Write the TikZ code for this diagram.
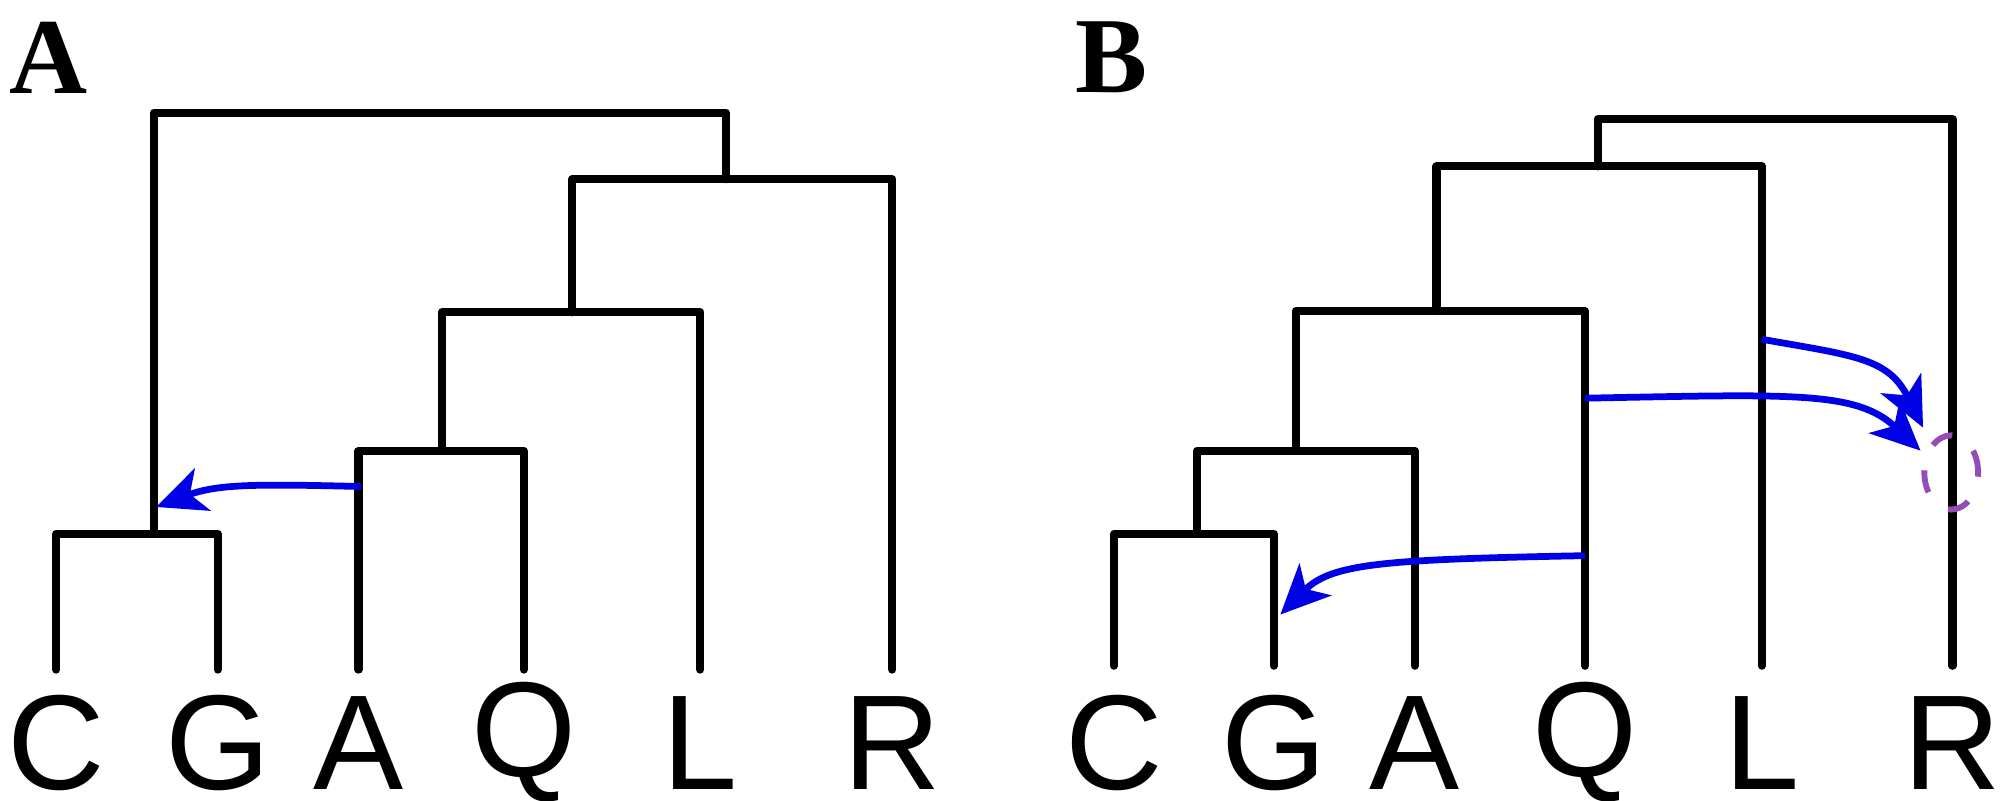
\documentclass[tikz,border=0pt]{standalone}
\usepackage{fontspec}
\setmainfont{Liberation Sans}
\newfontfamily\panelfont{Liberation Serif}
\usetikzlibrary{arrows.meta,shapes.geometric}
\begin{document}
\begin{tikzpicture}[x=0.01cm,y=-0.01cm,
  br/.style={line width=1.8pt,line join=round,line cap=round},
  hgt/.style={draw=blue!90!black,line width=1.5pt,-{Stealth[length=11pt,width=10pt,inset=3pt]}},
  leaf/.style={font=\fontsize{30}{30}\selectfont,anchor=center,inner sep=0},
  panel/.style={font=\panelfont\bfseries\fontsize{24}{24}\selectfont,inner sep=0}]
\useasboundingbox (0,0) rectangle (1566,625);
\node[panel] (pA) at (38,45) {A};
\node[panel] (pB) at (868,45) {B};
% Tree A
\foreach \n/\x in {C/44,G/170,A/280,Q/409,L/547,R/697}
  \node[leaf] (a\n) at (\x,580) {\n};
\draw[br] (44,523) |- (170,417) -- (170,523);
\draw[br] (280,523) |- (409,352) -- (409,523);
\draw[br] (345,352) |- (547,244) -- (547,523);
\draw[br] (447,244) |- (697,140) -- (697,523);
\draw[br] (120,417) |- (567,88) -- (567,140);
\coordinate (asrc) at (282,380);
\coordinate (adst) at (122,396);
\draw[hgt] (asrc) .. controls (200,378) and (170,378) .. (adst);
% Tree B
\foreach \n/\x in {C/870,G/995,A/1105,Q/1238,L/1376,R/1525}
  \node[leaf] (b\n) at (\x,580) {\n};
\draw[br] (870,520) |- (995,417) -- (995,520);
\draw[br] (935,417) |- (1105,352) -- (1105,520);
\draw[br] (1012,352) |- (1238,243) -- (1238,520);
\draw[br] (1122,243) |- (1376,130) -- (1376,520);
\draw[br] (1248,130) |- (1525,93) -- (1525,520);
\coordinate (s1) at (1238,434);
\coordinate (d1) at (1000,480);
\coordinate (s2) at (1238,311);
\coordinate (d2) at (1500,352);
\coordinate (s3) at (1376,265);
\coordinate (d3) at (1502,334);
\draw[hgt] (s1) .. controls (1080,437) and (1040,440) .. (d1);
\draw[hgt] (s2) .. controls (1400,308) and (1450,305) .. (d2);
\draw[hgt] (s3) .. controls (1450,278) and (1475,280) .. (d3);
\node[draw=violet!80!blue!70,line width=1.3pt,ellipse,minimum width=0.42cm,minimum height=0.58cm,inner sep=0,dash pattern=on 5pt off 6pt] (circ) at (1524,369) {};
\end{tikzpicture}
\end{document}
